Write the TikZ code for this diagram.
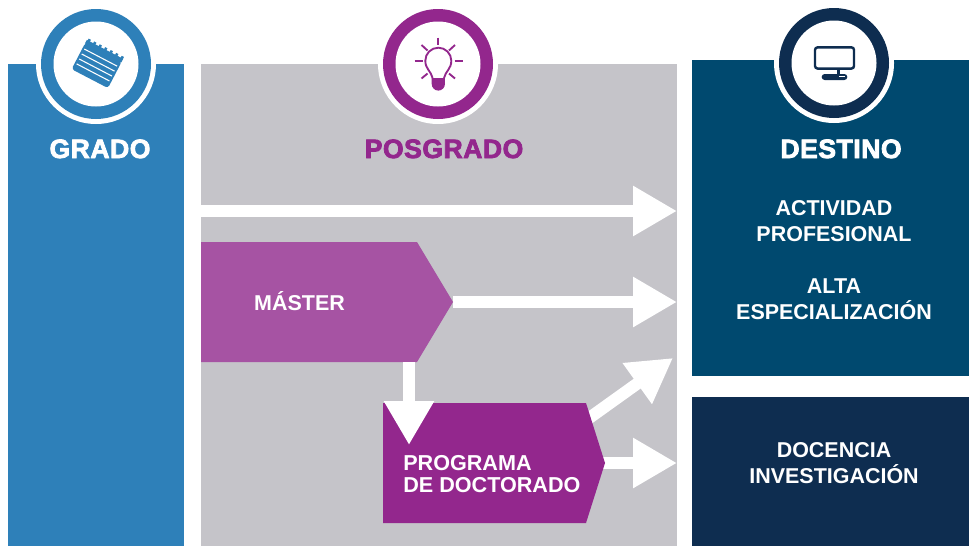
\documentclass[tikz,border=0pt]{standalone}
\usepackage{fontspec}
\setmainfont{Liberation Sans}
\newfontfamily\heavyfont[FakeBold=3,LetterSpace=2]{Liberation Sans Bold}
\usetikzlibrary{arrows.meta}
\definecolor{gradoblue}{HTML}{2E80B9}
\definecolor{panelgrey}{HTML}{C5C4C9}
\definecolor{destteal}{HTML}{00496F}
\definecolor{navy}{HTML}{0E2D50}
\definecolor{mastermauve}{HTML}{A653A3}
\definecolor{purple}{HTML}{93278D}
\tikzset{
  panel/.style={rectangle,inner sep=0pt,outer sep=0pt},
  halo/.style={circle,fill=white,inner sep=0pt,minimum size=90pt},
  ring/.style={circle,inner sep=0pt,minimum size=82.5pt},
  hole/.style={circle,fill=white,inner sep=0pt,minimum size=63.75pt},
  bigarrow/.style={draw=white,line width=9pt,-{Triangle[length=33pt,width=35.5pt,fill=white]}},
  title/.style={font=\heavyfont\fontsize{19.9}{24}\selectfont,anchor=base},
  label/.style={font=\bfseries\fontsize{16.1}{19.5}\selectfont,text=white,align=center,inner sep=0pt},
  doclabel/.style={font=\bfseries\fontsize{16.2}{16.5}\selectfont,text=white,align=left,inner sep=0pt},
}
\begin{document}
\begin{tikzpicture}[x=0.75pt,y=-0.75pt]
\useasboundingbox (0,0) rectangle (969,546);
% panels
\node[panel,fill=gradoblue,minimum width=132pt,minimum height=361.5pt] (grado) at (96,305) {};
\node[panel,fill=panelgrey,minimum width=357pt,minimum height=361.5pt] (posgrado) at (439,305) {};
\node[panel,fill=destteal,minimum width=207.75pt,minimum height=237pt] (destino) at (830.5,218) {};
\node[panel,fill=navy,minimum width=207.75pt,minimum height=111.75pt] (docencia) at (830.5,471.5) {};
% badges
\node[halo] (haloa) at (96,64) {};
\node[ring,fill=gradoblue] (ringa) at (96,64) {};
\node[hole] (holea) at (96,64) {};
\node[halo] (halob) at (438,64) {};
\node[ring,fill=purple] (ringb) at (438,64) {};
\node[hole] (holeb) at (438,64) {};
\node[halo] (haloc) at (834,63) {};
\node[ring,fill=navy] (ringc) at (834,63) {};
\node[hole] (holec) at (834,63) {};
% notepad icon
\begin{scope}[shift={(87.3,39)},rotate=-27.5]
  \fill[gradoblue,rounded corners=2.2pt] (0,4) -- (41,4) -- (41,34) -- (0,34) -- cycle;
  \fill[gradoblue] (0,1) rectangle (41,5);
  \foreach \i in {0,...,6}{\fill[gradoblue] (1+\i*6.2,-1) rectangle (3.6+\i*6.2,2);}
  \foreach \yy in {10.3,15.9,21.5,27}{\draw[white,line width=0.8pt] (2,\yy) -- (39,\yy);}
\end{scope}
% bulb icon
\begin{scope}[purple,line width=1.4pt]
  \draw (432.6,78) .. controls (431,71) and (425.3,69) .. (425.3,60.7)
     arc[start angle=180,end angle=360,radius=13] .. controls (451.3,69) and (445.6,71) .. (444,78);
  \fill (431.7,78) -- (444.9,78) -- (444.9,84) arc[start angle=0,end angle=180,radius=6.6] -- cycle;
  \draw (438.3,37.5) -- (438.3,45);
  \draw (414.5,61) -- (422.5,61);
  \draw (454.5,61) -- (462.5,61);
  \draw (421.5,45) -- (427.5,50.5);
  \draw (455,45) -- (449,50.5);
  \draw (421.5,78.5) -- (427.5,73.5);
  \draw (455,78.5) -- (449,73.5);
\end{scope}
% monitor icon
\draw[navy,line width=1.8pt,rounded corners=2pt] (815,47.3) rectangle (854,68.6);
\fill[navy] (836.7,68) rectangle (840,75);
\fill[navy,rounded corners=2.2pt] (821.7,74) rectangle (847.3,80);
\draw[white,line width=0.6pt] (839,76) -- (845,76);
% connection points
\coordinate (topstart) at (201,211);
\coordinate (topend) at (677,211);
\coordinate (masterend) at (677,302);
\coordinate (masterdown) at (409,362);
\coordinate (docin) at (409,445);
\coordinate (diagstart) at (585,421);
\coordinate (diagend) at (673,358);
\coordinate (docend) at (677,463);
\coordinate (mastertip) at (453,302);
\coordinate (doctip) at (600,463);
% arrows behind shapes
\draw[bigarrow] (topstart) -- (topend);
\draw[bigarrow] (mastertip) -- (masterend);
\draw[bigarrow] (diagstart) -- (diagend);
\draw[bigarrow] (doctip) -- (docend);
% process shapes
\fill[mastermauve] (201,242) -- (417,242) -- (mastertip) -- (417,362) -- (201,362) -- cycle;
\fill[purple] (383,403) -- (586,403) -- (605,463) -- (586,523) -- (383,523) -- cycle;
\draw[bigarrow] (masterdown) -- (docin);
% titles
\node[title,text=white] (tgrado) at (100,158) {GRADO};
\node[title,text=purple] (tposgrado) at (444,158) {POSGRADO};
\node[title,text=white] (tdestino) at (841,158) {DESTINO};
% labels
\node[label] (lactividad) at (834,221.3) {ACTIVIDAD\\PROFESIONAL};
\node[label] (lalta) at (834,299) {ALTA\\ESPECIALIZACIÓN};
\node[label] (ldocencia) at (834,463) {DOCENCIA\\INVESTIGACIÓN};
\node[label] (lmaster) at (299.5,301.5) {MÁSTER};
\node[doclabel,anchor=west] (ldoctor) at (403,474) {PROGRAMA\\DE DOCTORADO};
\end{tikzpicture}
\end{document}
